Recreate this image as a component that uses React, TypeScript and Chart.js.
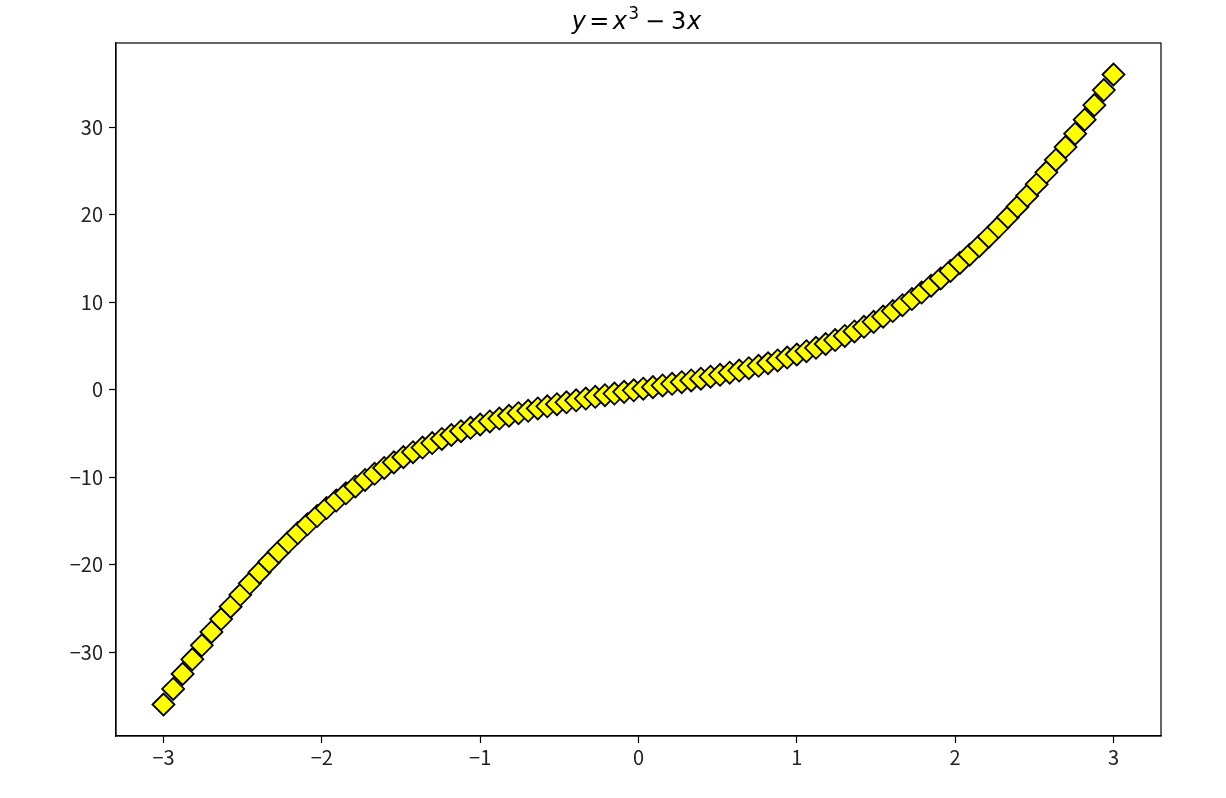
import React, { useEffect, useRef } from "react";
import { Chart, registerables } from "chart.js";

Chart.register(...registerables);

const X_VALUES: number[] = [
  -3.0, -2.939, -2.879, -2.818, -2.758, -2.697, -2.636, -2.576, -2.515, -2.455,
  -2.394, -2.333, -2.273, -2.212, -2.152, -2.091, -2.03, -1.97, -1.909, -1.848,
  -1.788, -1.727, -1.667, -1.606, -1.545, -1.485, -1.424, -1.364, -1.303, -1.242,
  -1.182, -1.121, -1.061, -1.0, -0.939, -0.879, -0.818, -0.758, -0.697, -0.636,
  -0.576, -0.515, -0.455, -0.394, -0.333, -0.273, -0.212, -0.152, -0.091, -0.03,
  0.03, 0.091, 0.152, 0.212, 0.273, 0.333, 0.394, 0.455, 0.515, 0.576,
  0.636, 0.697, 0.758, 0.818, 0.879, 0.939, 1.0, 1.061, 1.121, 1.182,
  1.242, 1.303, 1.364, 1.424, 1.485, 1.545, 1.606, 1.667, 1.727, 1.788,
  1.848, 1.909, 1.97, 2.03, 2.091, 2.152, 2.212, 2.273, 2.333, 2.394,
  2.455, 2.515, 2.576, 2.636, 2.697, 2.758, 2.818, 2.879, 2.939, 3.0,
];

const Y_VALUES: number[] = [
  -36.0, -34.22, -32.5, -30.84, -29.24, -27.71, -26.23, -24.82, -23.46, -22.15,
  -20.9, -19.7, -18.56, -17.46, -16.41, -15.41, -14.46, -13.55, -12.69, -11.86,
  -11.08, -10.34, -9.63, -8.96, -8.33, -7.73, -7.16, -6.63, -6.12, -5.65,
  -5.2, -4.77, -4.38, -4.0, -3.65, -3.32, -3.0, -2.71, -2.43, -2.17,
  -1.92, -1.68, -1.46, -1.24, -1.04, -0.84, -0.65, -0.46, -0.27, -0.09,
  0.09, 0.27, 0.46, 0.65, 0.84, 1.04, 1.24, 1.46, 1.68, 1.92,
  2.17, 2.43, 2.71, 3.0, 3.32, 3.65, 4.0, 4.38, 4.77, 5.2,
  5.65, 6.12, 6.63, 7.16, 7.73, 8.33, 8.96, 9.63, 10.34, 11.08,
  11.86, 12.69, 13.55, 14.46, 15.41, 16.41, 17.46, 18.56, 19.7, 20.9,
  22.15, 23.46, 24.82, 26.23, 27.71, 29.24, 30.84, 32.5, 34.22, 36.0,
];

const X_TICKS: number[] = [-3, -2, -1, 0, 1, 2, 3];
const Y_TICKS: number[] = [-30, -20, -10, 0, 10, 20, 30];
const X_RANGE: number[] = [-3.3, 3.3];
const Y_RANGE: number[] = [-39.6, 39.6];

// Title pieces: [text, italic, superscript, gapBefore(em)]
const TITLE_PARTS: [string, boolean, boolean, number][] = [
  ["y", true, false, 0],
  ["=", false, false, 0.14],
  ["x", true, false, 0.14],
  ["3", false, true, 0.05],
  ["\u2212", false, false, 0.25],
  ["3", false, false, 0.25],
  ["x", true, false, 0.03],
];

const fmt = (v: number) => (v < 0 ? "\u2212" + Math.abs(v) : String(v));

const framePlugin = {
  id: "frameAndTitle",
  afterDraw(chart: any) {
    const { ctx, chartArea } = chart;
    ctx.save();
    ctx.strokeStyle = "#000";
    ctx.lineWidth = 1.2;
    ctx.strokeRect(chartArea.left, chartArea.top, chartArea.right - chartArea.left, chartArea.bottom - chartArea.top);

    // title
    const size = 24;
    const fontFor = (italic: boolean, sup: boolean) =>
      `${italic ? "italic " : ""}${sup ? Math.round(size * 0.7) : size}px "DejaVu Sans"`;
    let total = 0;
    const widths: number[] = [];
    for (const [t, it, sup, gap] of TITLE_PARTS) {
      ctx.font = fontFor(it, sup);
      const w = ctx.measureText(t).width;
      widths.push(w);
      total += gap * size + w;
    }
    let x = (chartArea.left + chartArea.right) / 2 - 2 - total / 2;
    const baseY = chartArea.top - 14;
    ctx.fillStyle = "#000";
    ctx.textBaseline = "alphabetic";
    ctx.textAlign = "left";
    TITLE_PARTS.forEach(([t, it, sup, gap], i) => {
      x += gap * size;
      ctx.font = fontFor(it, sup);
      ctx.fillText(t, x, sup ? baseY - size * 0.42 : baseY);
      x += widths[i];
    });
    ctx.restore();
  },
};

export default function App() {
  const ref = useRef<HTMLCanvasElement | null>(null);
  useEffect(() => {
    if (!ref.current) return;
    const tickFont = { family: '"Noto Sans CJK SC", "Noto Sans", sans-serif', size: 20 };
    const chart = new Chart(ref.current, {
      type: "scatter",
      data: {
        datasets: [
          {
            data: X_VALUES.map((x, i) => ({ x, y: Y_VALUES[i] })),
            pointStyle: "rectRot",
            pointRadius: 11,
            pointBorderWidth: 1.8,
            pointBackgroundColor: "#ffff00",
            pointBorderColor: "#000",
            showLine: false,
          },
        ],
      },
      options: {
        responsive: false,
        animation: false,
        events: [],
        layout: { padding: { left: 0, right: 65, top: 43, bottom: 0 } },
        plugins: { legend: { display: false }, tooltip: { enabled: false }, title: { display: false } },
        scales: {
          x: {
            type: "linear",
            min: X_RANGE[0],
            max: X_RANGE[1],
            afterBuildTicks: (s: any) => {
              s.ticks = X_TICKS.map((v) => ({ value: v }));
            },
            afterFit: (s: any) => {
              s.height = 62;
            },
            grid: { display: true, drawOnChartArea: false, drawTicks: true, tickLength: 7, color: "#000", tickWidth: 1.2 },
            border: { display: true, color: "#000", width: 1.2 },
            ticks: { color: "#222", font: tickFont, padding: 2, maxRotation: 0, callback: (v: any) => fmt(Number(v)) },
          },
          y: {
            type: "linear",
            min: Y_RANGE[0],
            max: Y_RANGE[1],
            afterBuildTicks: (s: any) => {
              s.ticks = Y_TICKS.map((v) => ({ value: v }));
            },
            afterFit: (s: any) => {
              s.width = 116;
            },
            grid: { display: true, drawOnChartArea: false, drawTicks: true, tickLength: 7, color: "#000", tickWidth: 1.2 },
            border: { display: true, color: "#000", width: 1.2 },
            ticks: { color: "#222", font: tickFont, padding: 6, callback: (v: any) => fmt(Number(v)) },
          },
        },
      },
      plugins: [framePlugin],
    });
    return () => chart.destroy();
  }, []);
  return (
    <div style={{ position: "fixed", left: 0, top: 0, width: 1226, height: 798, background: "#fff" }}>
      <canvas ref={ref} width={1226} height={798} style={{ display: "block" }} />
    </div>
  );
}
